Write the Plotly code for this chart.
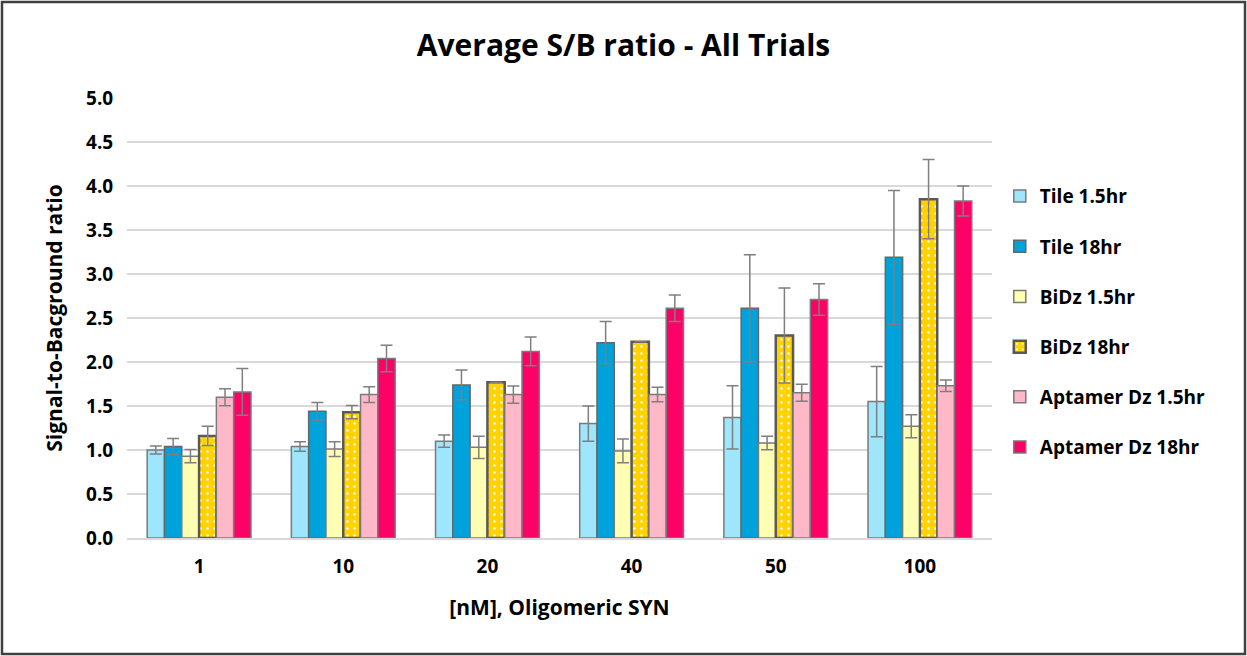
import plotly.graph_objects as go

categories = ["1", "10", "20", "40", "50", "100"]
series_names = ["Tile 1.5hr", "Tile 18hr", "BiDz 1.5hr", "BiDz 18hr", "Aptamer Dz 1.5hr", "Aptamer Dz 18hr"]

tile_15 = [1.00, 1.04, 1.10, 1.30, 1.37, 1.55]
tile_15_err = [0.045, 0.055, 0.07, 0.20, 0.36, 0.40]
tile_18 = [1.04, 1.44, 1.74, 2.22, 2.61, 3.19]
tile_18_err = [0.09, 0.10, 0.17, 0.24, 0.61, 0.76]
bidz_15 = [0.93, 1.01, 1.03, 0.99, 1.08, 1.27]
bidz_15_err = [0.075, 0.085, 0.127, 0.134, 0.077, 0.13]
bidz_18 = [1.16, 1.43, 1.77, 2.23, 2.30, 3.85]
bidz_18_err = [0.11, 0.076, 0.0, 0.0, 0.54, 0.45]
apt_15 = [1.60, 1.63, 1.63, 1.63, 1.65, 1.73]
apt_15_err = [0.097, 0.09, 0.098, 0.083, 0.097, 0.065]
apt_18 = [1.66, 2.04, 2.12, 2.61, 2.71, 3.83]
apt_18_err = [0.265, 0.15, 0.163, 0.15, 0.18, 0.17]

y_ticks = [0.0, 0.5, 1.0, 1.5, 2.0, 2.5, 3.0, 3.5, 4.0, 4.5, 5.0]

values = [tile_15, tile_18, bidz_15, bidz_18, apt_15, apt_18]
errors = [tile_15_err, tile_18_err, bidz_15_err, bidz_18_err, apt_15_err, apt_18_err]
colors = ["#9EE6FC", "#00A2DC", "#FFFFB3", "#FFD200", "#FFB8C8", "#FF0066"]
line_w = [1.5, 1.5, 1.5, 2.5, 1.5, 1.5]
line_c = ["#7A7A7A", "#666666", "#7A7A7A", "#595959", "#7A7A7A", "#7A7A7A"]

FONT = "Open Sans"

fig = go.Figure()
for i in range(6):
    marker = dict(color=colors[i], line=dict(color=line_c[i], width=line_w[i]))
    if i == 3:
        marker["pattern"] = dict(shape=".", fgcolor="white", bgcolor=colors[i],
                                 size=7, solidity=0.1, fillmode="replace")
    fig.add_trace(go.Bar(
        x=categories, y=values[i], name="<b>" + series_names[i] + "</b>", marker=marker,
        legendgroup=str(i),
        error_y=dict(type="data", array=errors[i], visible=True,
                     color="#7F7F7F", thickness=1.5, width=6),
    ))

fig.update_layout(
    width=1247, height=656,
    paper_bgcolor="white", plot_bgcolor="white",
    margin=dict(l=127, r=255, t=98, b=118),
    barmode="group", bargap=0.28, bargroupgap=0.0,
    title=dict(text="<b>Average S/B ratio - All Trials</b>", x=0.5, xanchor="center",
               y=0.93, yanchor="middle", font=dict(family=FONT, size=30, color="black")),
    font=dict(family=FONT, color="black"),
    legend=dict(x=1.009, xanchor="left", y=0.82, yanchor="top",
                font=dict(family=FONT, size=19, color="black"),
                tracegroupgap=22.5, itemwidth=30, bgcolor="rgba(0,0,0,0)"),
    xaxis=dict(title=dict(text="<b>[nM], Oligomeric SYN</b>", font=dict(size=21, family=FONT), standoff=23),
               tickfont=dict(size=19, family=FONT), showline=True, linecolor="#D9D9D9", linewidth=1.5,
               ticks="outside", ticklen=10, tickcolor="rgba(0,0,0,0)",
               tickprefix="<b>", ticksuffix="</b>"),
    yaxis=dict(title=dict(text="<b>Signal-to-Bacground ratio</b>", font=dict(size=21, family=FONT), standoff=17),
               range=[0, 5], tickvals=y_ticks, ticktext=["<b>%.1f</b>" % v for v in y_ticks],
               tickfont=dict(size=19, family=FONT), showgrid=True, gridcolor="#D9D9D9", gridwidth=1.5,
               zeroline=False, ticks="outside", ticklen=9, tickcolor="rgba(0,0,0,0)"),
)

# outer chart border
pw, ph = 865.0, 440.0
fig.add_shape(type="rect", xref="paper", yref="paper",
              x0=(2 - 127) / pw, x1=(1245 - 127) / pw,
              y0=(538 - 654) / ph, y1=(538 - 2) / ph,
              line=dict(color="#404040", width=2.5), fillcolor="rgba(0,0,0,0)", layer="above")

fig.write_html("out.html", config={"displayModeBar": False},
               post_script="document.body.style.margin='0';document.body.style.overflow='hidden';")
